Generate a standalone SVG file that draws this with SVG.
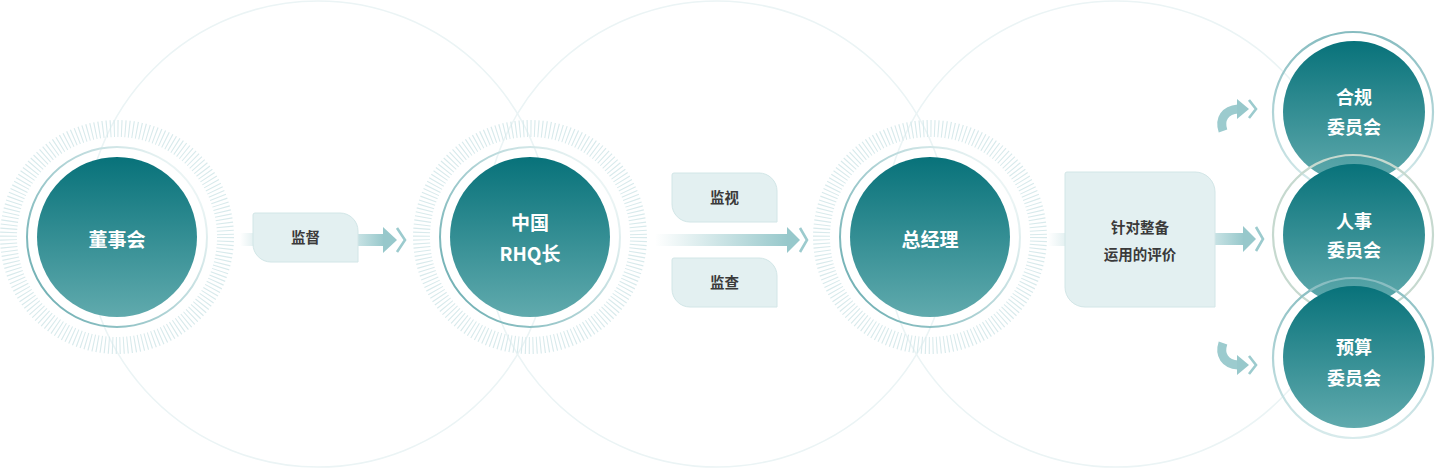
<svg xmlns="http://www.w3.org/2000/svg" xmlns:xlink="http://www.w3.org/1999/xlink" width="1436" height="469" viewBox="0 0 1436 469">
<style>
.bg{fill:none;stroke:#ebf4f5;stroke-width:1.6}
.fill{fill:url(#gFill)}
.ring{fill:none;stroke:url(#gRing);stroke-width:2}
.ring2{fill:none;stroke:url(#gRing2);stroke-width:2.2}
.ctext{font-family:"Noto Sans CJK SC","Noto Sans",sans-serif;font-weight:700;fill:#ffffff;text-anchor:middle}
.btext{font-family:"Noto Sans CJK SC","Noto Sans",sans-serif;font-weight:700;fill:#3a3a3a;text-anchor:middle;font-size:14.5px}
.box{fill:#e3f0f1;stroke:#d2e6e7;stroke-width:1}
.head{fill:#97c8cb}
.chev{fill:none;stroke:#9ccbce;stroke-width:2.6}
</style>
<defs>
<linearGradient id="gFill" x1="0" y1="0" x2="0" y2="1">
<stop offset="0" stop-color="#08727a"/>
<stop offset="1" stop-color="#60aaad"/>
</linearGradient>
<linearGradient id="gRing" x1="0" y1="1" x2="1" y2="0.3">
<stop offset="0" stop-color="#5ea6aa"/>
<stop offset="0.45" stop-color="#9fcacd"/>
<stop offset="1" stop-color="#eef6f6"/>
</linearGradient>
<linearGradient id="gRing2" x1="0" y1="0" x2="0" y2="1">
<stop offset="0" stop-color="#86bcc0"/>
<stop offset="1" stop-color="#d8ebec"/>
</linearGradient>
<linearGradient id="gBar" x1="0" y1="0" x2="1" y2="0">
<stop offset="0" stop-color="#c7e2e4"/>
<stop offset="1" stop-color="#97c8cb"/>
</linearGradient>
<linearGradient id="gLong" x1="0" y1="0" x2="1" y2="0">
<stop offset="0" stop-color="#97c8cb" stop-opacity="0"/>
<stop offset="1" stop-color="#97c8cb"/>
</linearGradient>
<linearGradient id="gFade" x1="0" y1="0" x2="1" y2="0">
<stop offset="0" stop-color="#e3f0f1" stop-opacity="0"/>
<stop offset="1" stop-color="#e3f0f1"/>
</linearGradient>
<circle id="ticks" r="108.5" fill="none" stroke="#d8eaec" stroke-width="17" stroke-dasharray="1.1 2.687"/>
</defs>
<rect width="1436" height="469" fill="#ffffff"/>
<g id="background">
<circle class="bg" cx="318" cy="234" r="233"/>
<circle class="bg" cx="717" cy="234" r="233"/>
<circle class="bg" cx="1116" cy="234" r="233"/>
</g>
<g id="connectors">
<rect x="240" y="233" width="14" height="13" fill="url(#gFade)"/>
<rect x="358" y="234" width="26" height="12" fill="url(#gBar)"/>
<polygon class="head" points="383,227 397,240 383,253"/>
<polyline class="chev" points="397,228 405,240 397,252"/>
<rect x="655" y="234" width="133" height="12" fill="url(#gLong)"/>
<polygon class="head" points="787,227 800,240 787,253"/>
<polyline class="chev" points="800,228 807,240 800,252"/>
<rect x="1048" y="233" width="18" height="13" fill="url(#gFade)"/>
<rect x="1215" y="233" width="29" height="12" fill="url(#gBar)"/>
<polygon class="head" points="1243,226 1256,239 1243,252"/>
<polyline class="chev" points="1256,227 1263,239 1256,251"/>
<path d="M1223 131 C1219 119 1225 110 1238 109" fill="none" stroke="#9ccbce" stroke-width="9"/>
<polygon class="head" points="1237,99 1249,109 1237,119"/>
<polyline class="chev" points="1249,100 1256,109 1249,118"/>
<path d="M1223 343 C1219 355 1225 364 1238 365" fill="none" stroke="#9ccbce" stroke-width="9"/>
<polygon class="head" points="1237,355 1249,365 1237,375"/>
<polyline class="chev" points="1249,356 1256,365 1249,374"/>
</g>
<g id="label-jiandu">
<path class="box" d="M255 213 H340 A18 18 0 0 1 358 231 V262 H271 A18 18 0 0 1 253 244 V215 A2 2 0 0 1 255 213 Z"/>
<text class="btext" x="305.5" y="243">监督</text>
</g>
<g id="label-jianshi">
<path class="box" d="M674 173 H759 A18 18 0 0 1 777 191 V222 H690 A18 18 0 0 1 672 204 V175 A2 2 0 0 1 674 173 Z"/>
<text class="btext" x="724.5" y="203">监视</text>
</g>
<g id="label-jiancha">
<path class="box" d="M674 258 H759 A18 18 0 0 1 777 276 V307 H690 A18 18 0 0 1 672 289 V260 A2 2 0 0 1 674 258 Z"/>
<text class="btext" x="724.5" y="288">监查</text>
</g>
<g id="label-evaluation">
<path class="box" d="M1067 172 H1195 A20 20 0 0 1 1215 192 V307 H1085 A20 20 0 0 1 1065 287 V174 A2 2 0 0 1 1067 172 Z"/>
<text class="btext" x="1140" y="233">针对整备</text>
<text class="btext" x="1140" y="260">运用的评价</text>
</g>
<g id="node-board">
<use xlink:href="#ticks" href="#ticks" x="117" y="237"/>
<circle class="ring" cx="117" cy="237" r="90"/>
<circle class="fill" cx="117" cy="237" r="80"/>
<text class="ctext" x="117" y="247" font-size="19">董事会</text>
</g>
<g id="node-rhq">
<use xlink:href="#ticks" href="#ticks" x="530" y="237"/>
<circle class="ring" cx="530" cy="237" r="90"/>
<circle class="fill" cx="530" cy="237" r="80"/>
<text class="ctext" x="530" y="230" font-size="19">中国</text>
<text class="ctext" x="530" y="261" font-size="19">RHQ长</text>
</g>
<g id="node-gm">
<use xlink:href="#ticks" href="#ticks" x="930" y="237"/>
<circle class="ring" cx="930" cy="237" r="90"/>
<circle class="fill" cx="930" cy="237" r="80"/>
<text class="ctext" x="930" y="247" font-size="19">总经理</text>
</g>
<g id="node-compliance">
<circle class="ring2" cx="1353" cy="112" r="80"/>
<circle class="fill" cx="1354" cy="112" r="71"/>
<text class="ctext" x="1354" y="104" font-size="18">合规</text>
<text class="ctext" x="1354" y="134" font-size="18">委员会</text>
</g>
<g id="node-hr">
<circle class="ring2" cx="1353" cy="235" r="80" style="stroke:#c6d9cf"/>
<circle class="fill" cx="1354" cy="235" r="71"/>
<text class="ctext" x="1354" y="228" font-size="18">人事</text>
<text class="ctext" x="1354" y="257" font-size="18">委员会</text>
</g>
<g id="node-budget">
<circle class="ring2" cx="1353" cy="358" r="80"/>
<circle class="fill" cx="1354" cy="357" r="71"/>
<text class="ctext" x="1354" y="354" font-size="18">预算</text>
<text class="ctext" x="1354" y="385" font-size="18">委员会</text>
</g>
</svg>
